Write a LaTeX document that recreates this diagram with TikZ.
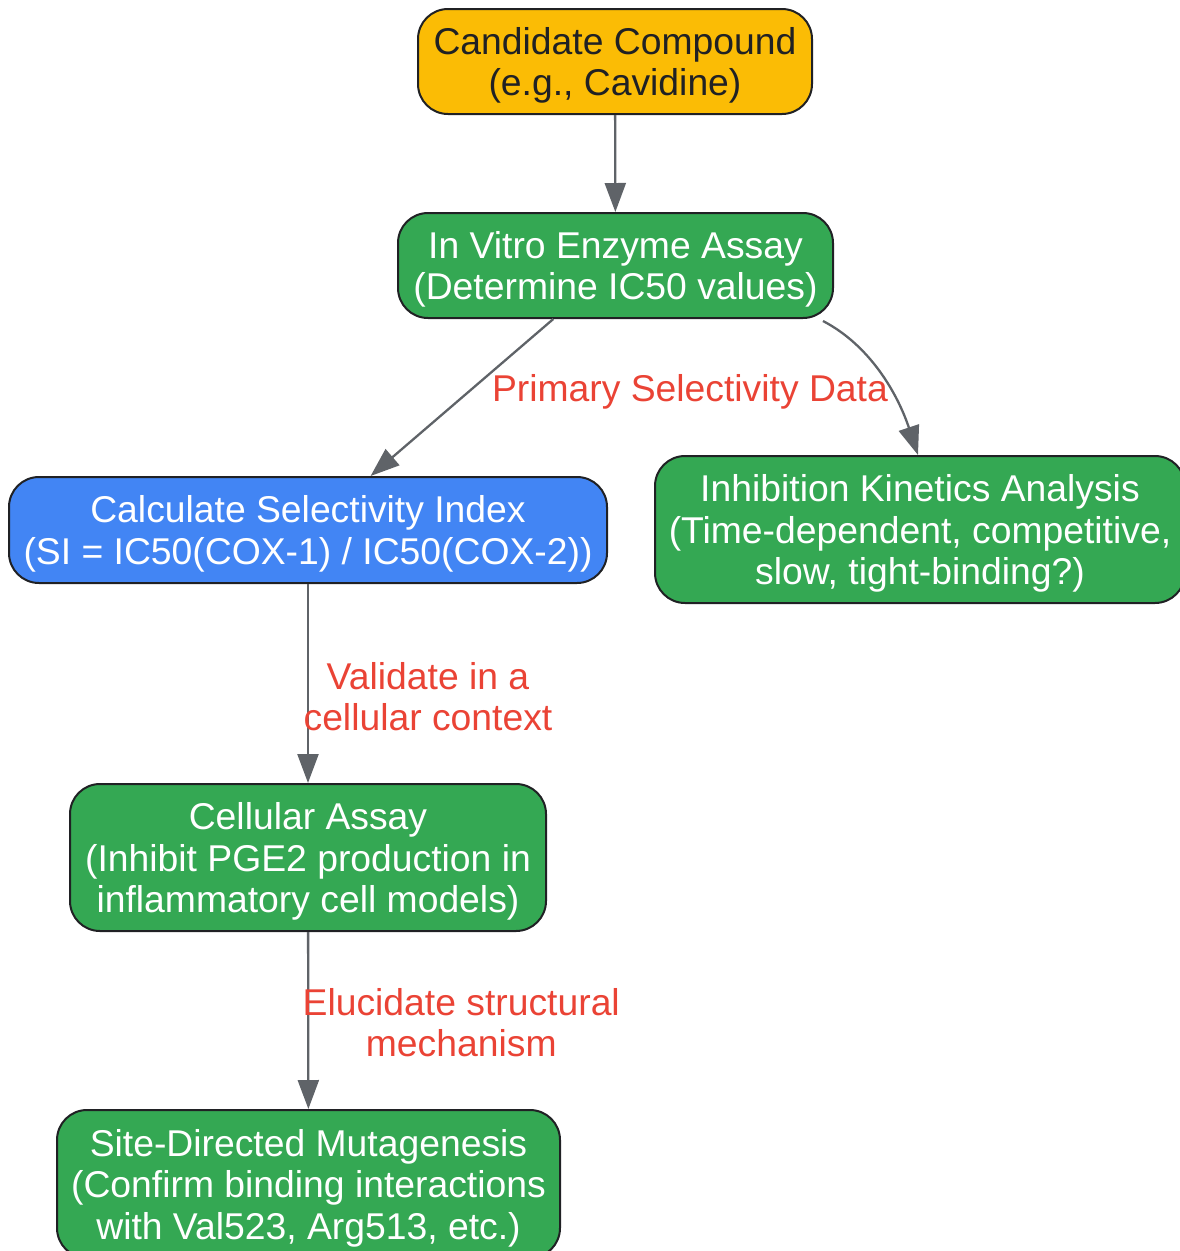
\documentclass[tikz,border=0pt]{standalone}
\usepackage{fontspec}
\setmainfont{Liberation Sans}
\usetikzlibrary{arrows.meta}
\definecolor{gyellow}{HTML}{FBBC05}
\definecolor{ggreen}{HTML}{34A853}
\definecolor{gblue}{HTML}{4285F4}
\definecolor{gred}{HTML}{EA4335}
\definecolor{ggray}{HTML}{5F6368}
\definecolor{gdark}{HTML}{202124}
\begin{document}
\begin{tikzpicture}[x=1pt,y=-1pt,
	box/.style={draw=gdark,line width=2pt,rounded corners=30pt,align=center,
		inner sep=0pt,font=\fontsize{37.3}{41.5}\selectfont,text=white,text depth=-2pt},
	edge/.style={ggray,line width=2.3pt,-{Triangle[length=29pt,width=21pt]}},
	lbl/.style={text=gred,align=center,font=\fontsize{37.3}{41.5}\selectfont}]
	\useasboundingbox (0,0) rectangle (1179,1251);
	\node[box,fill=gyellow,text=gdark,minimum width=394pt,minimum height=105pt] (cand) at (615,61.5) {Candidate Compound\\(e.g., Cavidine)};
	\node[box,fill=ggreen,minimum width=435pt,minimum height=105pt] (vitro) at (615.5,265.5) {In Vitro Enzyme Assay\\(Determine IC50 values)};
	\node[box,fill=gblue,minimum width=598pt,minimum height=106pt] (calc) at (308,530) {Calculate Selectivity Index\\(SI = IC50(COX-1) / IC50(COX-2))};
	\node[box,fill=ggreen,minimum width=530pt,minimum height=147pt] (inhib) at (920,529.5) {Inhibition Kinetics Analysis\\(Time-dependent, competitive,\\slow, tight-binding?)};
	\node[box,fill=ggreen,minimum width=476pt,minimum height=147pt] (cell) at (308,857.5) {Cellular Assay\\(Inhibit PGE2 production in\\inflammatory cell models)};
	\node[box,fill=ggreen,minimum width=503pt,minimum height=148pt] (site) at (308.5,1184) {Site-Directed Mutagenesis\\(Confirm binding interactions\\with Val523, Arg513, etc.)};
	% connectors
	\draw[edge] (cand) -- (vitro);
	\draw[edge] (vitro) -- node[lbl,xshift=228pt,yshift=6pt] {Primary Selectivity Data} (calc);
	\draw[edge] ([xshift=-11pt,yshift=-2pt]vitro.south east) .. controls +(48,25) and +(-20,-60) .. ([xshift=-2pt]inhib.north);
	\draw[edge] (calc) -- node[lbl,xshift=120pt,yshift=-13pt] {Validate in a\\cellular context} (cell);
	\draw[edge] (cell) -- node[lbl,xshift=153pt,yshift=-2pt] {Elucidate structural\\mechanism} (site);
\end{tikzpicture}
\end{document}
